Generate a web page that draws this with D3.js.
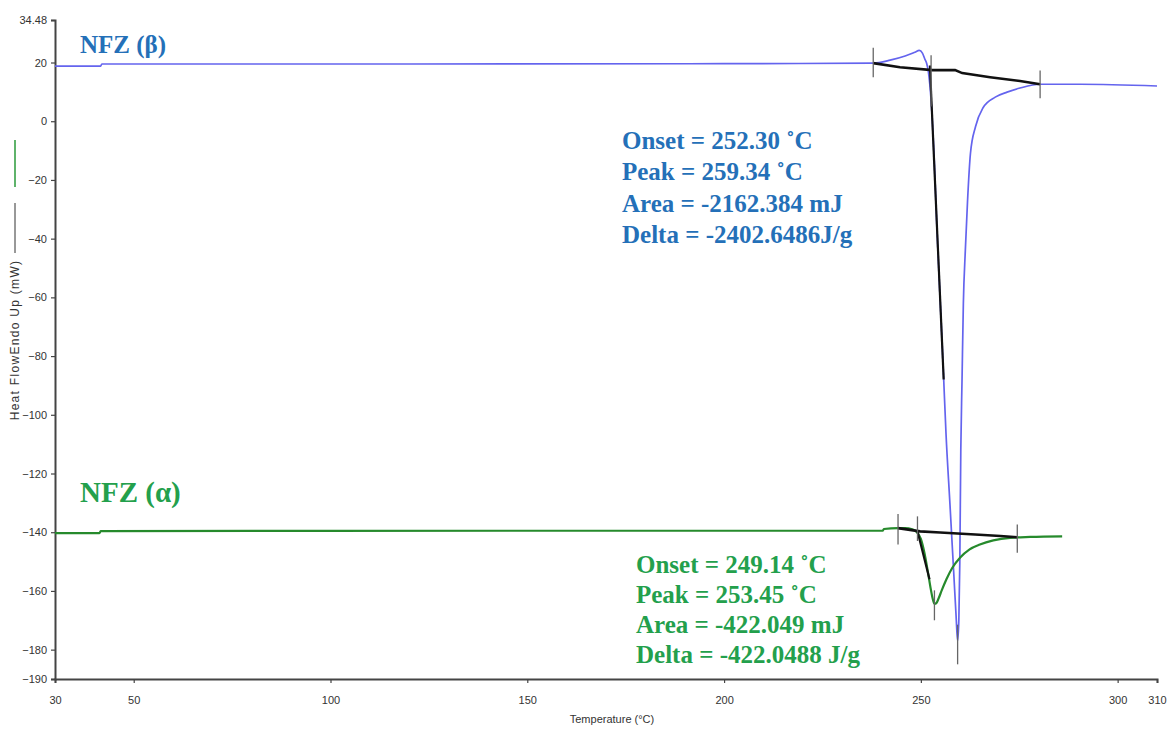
<!DOCTYPE html>
<html>
<head>
<meta charset="utf-8">
<script src="https://cdn.jsdelivr.net/npm/d3@7"></script>
<style>
  html, body { margin: 0; padding: 0; background: #fff; }
  svg { display: block; }
  .tick text { font-family: "Liberation Sans Narrow", "Arial Narrow", "Liberation Sans", sans-serif; font-size: 11px; fill: #333; }
</style>
</head>
<body>
<svg id="chart" width="1170" height="731"></svg>
<script>
// DSC thermograms of the two NFZ polymorphs: [temperature °C, heat flow mW]
const betaCurve = [
  [30, 18.8], [41.6, 18.8], [41.9, 19.5], [120, 19.5], [200, 19.6], [237.9, 19.8],
  [242.2, 20.8], [246.0, 22.2], [248.5, 23.5], [249.6, 24.1], [250.4, 23.2],
  [251.0, 21.2], [251.5, 19.6], [251.9, 17.0], [252.6, 7.2], [253.4, -13.2],
  [254.1, -37.0], [254.9, -60.8], [255.7, -84.6], [256.4, -106.7], [257.4, -130.6],
  [258.4, -155.0], [258.95, -168.5], [259.34, -177.0], [259.65, -170.0],
  [259.9, -150.0], [260.15, -112.0], [260.45, -89.0], [260.8, -62.0],
  [261.3, -44.0], [261.85, -27.5], [262.6, -11.0], [263.9, -1.8], [265.8, 4.6],
  [268.9, 8.2], [271.9, 9.9], [275.2, 11.3], [280.3, 12.6], [290.5, 12.6], [310, 12.0]
];
const alphaCurve = [
  [30, -140.3], [41.3, -140.3], [41.6, -139.6], [150, -139.5], [240.3, -139.5],
  [240.6, -138.9], [244.2, -138.6], [246.0, -138.6], [247.8, -139.0], [249.0, -140.0],
  [250.0, -142.3], [250.9, -147.0], [251.8, -153.6], [252.5, -159.2], [253.0, -162.6],
  [253.45, -164.4], [253.9, -164.2], [254.5, -162.6], [255.3, -159.8], [256.5, -156.0],
  [258.0, -152.1], [260.0, -148.6], [262.3, -145.9], [265.0, -144.2], [268.4, -142.8],
  [272.7, -141.9], [277.8, -141.6], [285.9, -141.4]
];

// Integration baselines and onset tangents
const betaBaseline = [
  [237.9, 19.8], [244.7, 18.4], [252.9, 17.4], [258.7, 17.4], [260.5, 16.4],
  [267.6, 15.0], [275.2, 13.7], [280.3, 12.6]
];
const betaTangent = [[252.3, 19.0], [255.8, -88.0]];
const alphaBaseline = [
  [244.2, -138.6], [249.8, -139.7], [254.9, -140.1], [263.8, -140.8],
  [270.2, -141.3], [274.5, -141.7]
];
const alphaTangent = [[249.14, -139.7], [252.2, -156.0]];

// Event markers: [temperature, top, bottom]
const betaMarks = [[237.9, 25.0, 15.0], [252.6, 22.5, 5.0], [280.3, 17.3, 7.8], [259.34, -171.5, -185.0]];
const alphaMarks = [[244.2, -133.8, -144.2], [249.14, -134.6, -143.0], [274.5, -137.4, -147.0], [253.45, -159.8, -170.0]];

// Axis ticks
const xTicks = [30, 50, 100, 150, 200, 250, 300, 310];
const yTicks = [34.48, 20, 0, -20, -40, -60, -80, -100, -120, -140, -160, -180, -190];

// Result annotations
const betaLines = ["Onset = 252.30 ˚C", "Peak = 259.34 ˚C", "Area = -2162.384 mJ", "Delta = -2402.6486J/g"];
const alphaLines = ["Onset = 249.14 ˚C", "Peak = 253.45 ˚C", "Area = -422.049 mJ", "Delta = -422.0488 J/g"];

const svg = d3.select("#chart");
const x = d3.scaleLinear().domain([30, 310]).range([55, 1157]);
const y = d3.scaleLinear().domain([-190, 34.48]).range([679, 20]);

const line = d3.line().x(d => x(d[0])).y(d => y(d[1]));
const smooth = d3.line().x(d => x(d[0])).y(d => y(d[1])).curve(d3.curveMonotoneX);

// axes
const xAxis = svg.append("g")
  .attr("transform", "translate(0,679)")
  .call(d3.axisBottom(x).tickValues(xTicks).tickFormat(d3.format("d")).tickSize(4).tickPadding(13));
const yAxis = svg.append("g")
  .attr("transform", "translate(55,0)")
  .call(d3.axisLeft(y).tickValues(yTicks).tickFormat(d => d === 34.48 ? "34.48" : d3.format("d")(d)).tickSize(4).tickPadding(4));
[xAxis, yAxis].forEach(g => {
  g.select(".domain").attr("stroke", "#444").attr("stroke-width", 2);
  g.selectAll(".tick line").attr("stroke", "#444").attr("stroke-width", 1.2);
});

// axis titles
svg.append("text")
  .attr("x", 612).attr("y", 723)
  .attr("text-anchor", "middle")
  .attr("font-family", "'Liberation Sans Narrow', 'Arial Narrow', 'Liberation Sans', sans-serif")
  .attr("font-size", 11).attr("fill", "#333")
  .text("Temperature (°C)");
svg.append("text")
  .attr("transform", "translate(19,340) rotate(-90)")
  .attr("text-anchor", "middle")
  .attr("font-family", "'Liberation Sans', Arial, sans-serif")
  .attr("font-size", 12).attr("fill", "#333")
  .attr("letter-spacing", 1.3)
  .text("Heat FlowEndo Up (mW)");
// legend strokes beside the y title
svg.append("line").attr("x1", 15).attr("x2", 15).attr("y1", 140).attr("y2", 187)
  .attr("stroke", "#2a9a3a").attr("stroke-width", 1.5);
svg.append("line").attr("x1", 15).attr("x2", 15).attr("y1", 203).attr("y2", 253)
  .attr("stroke", "#333").attr("stroke-width", 1);

// thermogram curves
svg.append("path").datum(betaCurve).attr("d", smooth)
  .attr("fill", "none").attr("stroke", "#6464ee").attr("stroke-width", 1.7);
svg.append("path").datum(alphaCurve).attr("d", smooth)
  .attr("fill", "none").attr("stroke", "#268a2c").attr("stroke-width", 2.2);

// baselines and tangents
[betaBaseline, alphaBaseline].forEach(b => {
  svg.append("path").datum(b).attr("d", line)
    .attr("fill", "none").attr("stroke", "#111").attr("stroke-width", 2.6);
});
[betaTangent, alphaTangent].forEach(t => {
  svg.append("path").datum(t).attr("d", line)
    .attr("fill", "none").attr("stroke", "#111").attr("stroke-width", 2.2);
});

// event markers
betaMarks.concat(alphaMarks).forEach(m => {
  svg.append("line")
    .attr("x1", x(m[0])).attr("x2", x(m[0]))
    .attr("y1", y(m[1])).attr("y2", y(m[2]))
    .attr("stroke", "#666").attr("stroke-width", 1.3);
});

// sample labels
const serif = "'Liberation Serif', 'Times New Roman', serif";
svg.append("text").attr("x", 80).attr("y", 53)
  .attr("font-family", serif).attr("font-weight", "bold").attr("font-size", 25)
  .attr("fill", "#2470b8").text("NFZ (β)");
svg.append("text").attr("x", 80).attr("y", 502)
  .attr("font-family", serif).attr("font-weight", "bold").attr("font-size", 29)
  .attr("fill", "#23a04c").text("NFZ (α)");

// result blocks
function block(lines, x0, y0, dy, color) {
  svg.append("g").selectAll("text").data(lines).join("text")
    .attr("x", x0).attr("y", (d, i) => y0 + i * dy)
    .attr("font-family", serif).attr("font-weight", "bold").attr("font-size", 25)
    .attr("fill", color).text(d => d);
}
block(betaLines, 622, 149, 31.3, "#2470b8");
block(alphaLines, 636, 573, 30, "#23a04c");
</script>
</body>
</html>
